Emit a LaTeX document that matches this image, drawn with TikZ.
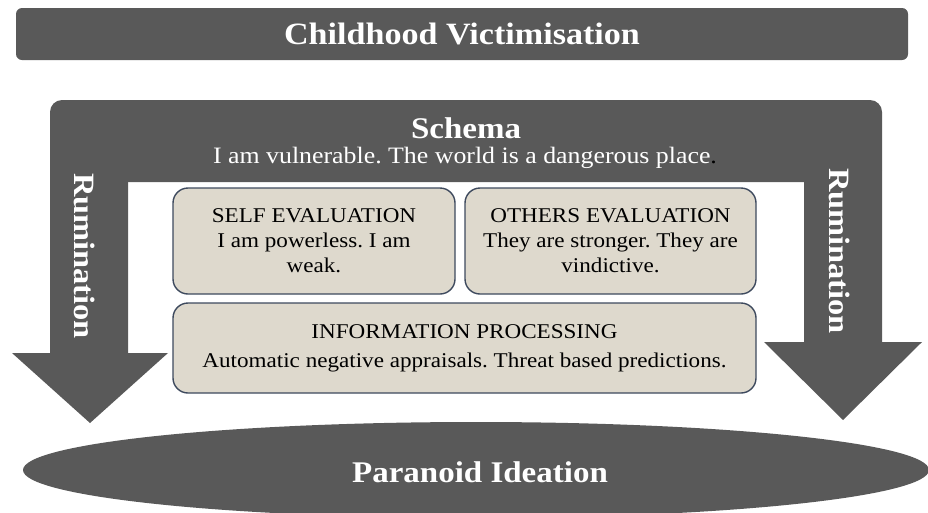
\documentclass[tikz,border=0pt]{standalone}
\usepackage{fontspec}
\setmainfont{Liberation Serif}[FakeStretch=1.1]
\frenchspacing
\usetikzlibrary{shapes.geometric}
\definecolor{dark}{HTML}{595959}
\definecolor{boxfill}{HTML}{DED9CD}
\definecolor{boxline}{HTML}{3E4A5E}
\tikzset{
  banner/.style={fill=dark, rounded corners=6pt, text=white, font=\fontsize{31}{33}\selectfont\bfseries},
  evalbox/.style={draw=boxline, line width=1.4pt, fill=boxfill, rounded corners=15pt, align=center,
    font=\fontsize{21}{25}\selectfont, inner sep=0pt},
  whitetxt/.style={text=white, inner sep=0pt},
  headtxt/.style={whitetxt, font=\fontsize{30}{32}\selectfont\bfseries},
}
\begin{document}
\begin{tikzpicture}[x=1pt,y=-1pt]
\useasboundingbox (0,0) rectangle (928,512);
% top banner
\node[banner, minimum width=892pt, minimum height=52pt] (cv) at (462,34) {Childhood Victimisation};
% schema frame with rumination arrows
\fill[dark, rounded corners=12pt] (50,100) rectangle (882,182);
\fill[dark] (50,170) -- (128,170) -- (128,353) -- (168,353) -- (90,423) -- (12,353) -- (50,353) -- cycle;
\fill[dark] (804,170) -- (882,170) -- (882,342) -- (922,342) -- (843,420) -- (764,342) -- (804,342) -- cycle;
\node[headtxt] (schema) at (466,128) {Schema};
\node[whitetxt, font=\fontsize{23.5}{26}\selectfont] (belief) at (465,158) {I am vulnerable. The world is a dangerous place\textcolor{black}{.}};
\node[headtxt, font=\fontsize{29.5}{30}\selectfont\bfseries, rotate=-90] (rumL) at (85,256) {Rumination};
\node[headtxt, font=\fontsize{29.5}{30}\selectfont\bfseries, rotate=-90] (rumR) at (840,251) {Rumination};
% evaluation boxes
\node[evalbox, minimum width=282pt, minimum height=106pt] (self) at (314,241)
  {SELF EVALUATION\\I am powerless. I am\\weak.};
\node[evalbox, minimum width=291pt, minimum height=106pt] (others) at (610.5,241)
  {OTHERS EVALUATION\\They are stronger. They are\\vindictive.};
\node[evalbox, font=\fontsize{21}{29}\selectfont, minimum width=583pt, minimum height=90pt] (info) at (464.5,348)
  {INFORMATION PROCESSING\\Automatic negative appraisals. Threat based predictions.};
% outcome
\node[ellipse, fill=dark, minimum width=906pt, minimum height=96pt, inner sep=0pt] (pi) at (476,470) {};
\node[headtxt] (pitxt) at (480,472) {Paranoid Ideation};
\end{tikzpicture}
\end{document}
